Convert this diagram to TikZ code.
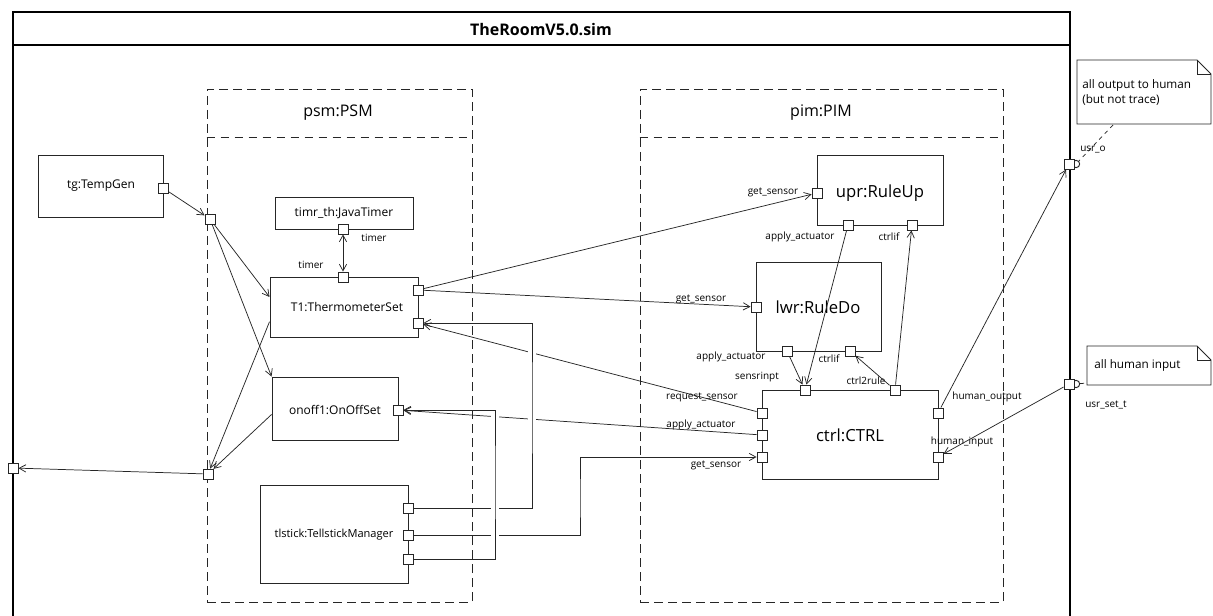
\documentclass[tikz,border=0pt]{standalone}
\usepackage{fontspec}
\setmainfont{Open Sans}
\usetikzlibrary{arrows.meta,fit,calc}
\begin{document}
\begin{tikzpicture}[x=0.75pt,y=-0.75pt,
  ln/.style={line width=0.55pt, draw=black!85},
  arr/.style={ln, -{Straight Barb[length=5pt,width=5.5pt]}},
  darr/.style={ln, {Straight Barb[length=5pt,width=5.5pt]}-{Straight Barb[length=5pt,width=5.5pt]}},
  box/.style={draw=black!85, line width=0.7pt, inner sep=0pt, fill=white},
  port/.style={draw=black!85, line width=0.7pt, fill=white, minimum size=7.5pt, inner sep=0pt},
  cont/.style={draw=black!85, line width=0.7pt, dash pattern=on 6.5pt off 4pt},
  lab/.style={font=\fontsize{9}{10}\selectfont, inner sep=0pt},
  nlab/.style={font=\fontsize{8.8}{10}\selectfont, inner sep=0pt},
  clab/.style={font=\fontsize{12}{14}\selectfont, inner sep=0pt},
  blab/.style={font=\fontsize{12.5}{14}\selectfont, inner sep=0pt},
  plab/.style={font=\fontsize{7.5}{8.5}\selectfont, inner sep=0pt},
  gap/.style={draw=white, line width=6pt},
]
\useasboundingbox (0,0) rectangle (1213,616);
\fill[white] (0,0) rectangle (1213,616);

% outer frame
\draw[line width=0.8pt] (13,616) -- (13,12) -- (1070,12) -- (1070,616);
\draw[line width=0.8pt] (13,45) -- (1070,45);
\node[font=\bfseries\fontsize{12}{14}\selectfont, inner sep=0pt] (title) at (541,30) {TheRoomV5.0.sim};

% containers
\coordinate (psmA) at (207,89); \coordinate (psmB) at (472,602);
\node[cont, fit=(psmA)(psmB), inner sep=0pt] (psm) {};
\coordinate (sep) at (0,137);
\draw[cont] (psm.west |- sep) -- (psm.east |- sep);
\node[clab] (psmt) at (338,113) {psm:PSM};
\coordinate (pimA) at (640,89); \coordinate (pimB) at (1003,602);
\node[cont, fit=(pimA)(pimB), inner sep=0pt] (pim) {};
\draw[cont] (pim.west |- sep) -- (pim.east |- sep);
\node[clab] (pimt) at (821,113) {pim:PIM};

% boxes
\coordinate (tgA) at (38,155); \coordinate (tgB) at (163,217);
\node[box, fit=(tgA)(tgB)] (tg) {};
\node[lab] (tgt) at (101,186) {tg:TempGen};
\coordinate (jtA) at (275,197); \coordinate (jtB) at (413,229);
\node[box, fit=(jtA)(jtB)] (jt) {};
\node[lab] (jtt) at (344,213) {timr\_th:JavaTimer};
\coordinate (t1A) at (270,277); \coordinate (t1B) at (418,337);
\node[box, fit=(t1A)(t1B)] (T1) {};
\node[lab] (t1t) at (347,307) {T1:ThermometerSet};
\coordinate (onA) at (272,377); \coordinate (onB) at (398,440);
\node[box, fit=(onA)(onB)] (onoff) {};
\node[lab] (ont) at (335,410) {onoff1:OnOffSet};
\coordinate (tlA) at (260,485); \coordinate (tlB) at (408,583);
\node[box, fit=(tlA)(tlB)] (tl) {};
\node[lab, font=\fontsize{8.3}{10}\selectfont] (tlt) at (334,535) {tlstick:TellstickManager};

\coordinate (upA) at (817,155); \coordinate (upB) at (943,225);
\node[box, fit=(upA)(upB)] (upr) {};
\node[blab] (uprt) at (880,193) {upr:RuleUp};
\coordinate (lwA) at (756,262); \coordinate (lwB) at (881,351);
\node[box, fit=(lwA)(lwB)] (lwr) {};
\node[blab] (lwrt) at (818,307) {lwr:RuleDo};
\coordinate (ctA) at (762,390); \coordinate (ctB) at (938,479);
\node[box, fit=(ctA)(ctB)] (ctrl) {};
\node[blab] (ctrlt) at (850,435) {ctrl:CTRL};

% notes
\draw[ln, line width=0.7pt, fill=white] (1077,60) -- (1197,60) -- (1211,74) -- (1211,124) -- (1077,124) -- cycle;
\draw[ln, line width=0.7pt] (1197,60) -- (1197,74) -- (1211,74);
\node[nlab, anchor=west] (n1a) at (1082,85) {all output to human};
\node[nlab, anchor=west] (n1b) at (1082,100) {(but not trace)};
\draw[ln, line width=0.7pt, fill=white] (1087,346) -- (1197,346) -- (1211,360) -- (1211,385) -- (1087,385) -- cycle;
\draw[ln, line width=0.7pt] (1197,346) -- (1197,360) -- (1211,360);
\node[nlab, anchor=west] (n2a) at (1094,365) {all human input};
\coordinate (n1c) at (1113,125);
\coordinate (n2c) at (1087,383);

% frame ports
\node[draw=black!85, line width=0.7pt, fill=white, circle, minimum size=5.5pt, inner sep=0pt] (usroc) at (1076,164) {};
\node[port] (usro) at (1069,164) {};
\node[draw=black!85, line width=0.7pt, fill=white, circle, minimum size=5.5pt, inner sep=0pt] (usrstc) at (1076,384) {};
\node[port] (usrst) at (1069,384) {};
\node[port] (fl) at (13,468) {};
\node[plab] (usrol) at (1093,150) {usr\_o};
\node[plab] (usrstl) at (1106,405) {usr\_set\_t};
\draw[ln, dashed] (n1c) -- (usroc);
\draw[ln, dashed] (usrstc) -- (n2c);

% ports
\node[port] (tgp) at (163,188) {};
\node[port] (psmin) at (210,219) {};
\node[port] (psmout) at (208,474) {};
\node[port] (jtp) at (343,229) {};
\node[port] (t1top) at (343,277) {};
\node[port] (t1p1) at (418,290) {};
\node[port] (t1p2) at (418,323) {};
\node[port] (onp) at (398,410) {};
\node[port] (tl1) at (408,508) {};
\node[port] (tl2) at (408,535) {};
\node[port] (tl3) at (408,559) {};
\node[port] (uprgs) at (817,193) {};
\node[port] (upraa) at (848,225) {};
\node[port] (uprci) at (912,225) {};
\node[port] (lwrgs) at (756,307) {};
\node[port] (lwraa) at (787,351) {};
\node[port] (lwrci) at (850,351) {};
\node[port] (ctrlsi) at (805,390) {};
\node[port] (ctrlc2r) at (895,390) {};
\node[port] (ctrlrq) at (762,413) {};
\node[port] (ctrlaa) at (762,435) {};
\node[port] (ctrlgs) at (762,457) {};
\node[port] (ctrlho) at (938,413) {};
\node[port] (ctrlhi) at (938,457) {};

% port labels
\node[plab] (l1) at (374,238) {timer};
\node[plab] (l2) at (311,265) {timer};
\node[plab] (l3) at (773,192) {get\_sensor};
\node[plab] (l4) at (800,237) {apply\_actuator};
\node[plab] (l5) at (889,237) {ctrlif};
\node[plab] (l6) at (701,299) {get\_sensor};
\node[plab] (l7) at (731,357) {apply\_actuator};
\node[plab] (l8) at (829,359) {ctrlif};
\node[plab] (l9) at (757,377) {sensrinpt};
\node[plab] (l10) at (866,381) {ctrl2rule};
\node[plab] (l11) at (702,397) {request\_sensor};
\node[plab] (l12) at (701,425) {apply\_actuator};
\node[plab] (l13) at (716,465) {get\_sensor};
\node[plab] (l14) at (987,397) {human\_output};
\node[plab] (l15) at (962,442) {human\_input};

% bend coordinates
\coordinate (b1) at (532,400);
\coordinate (b2) at (580,500);
\coordinate (b3) at (495,480);

% connectors
\draw[arr] (tgp) -- (psmin);
\draw[arr] (psmin) -- ([yshift=7.5pt]T1.west);
\draw[arr] (psmin) -- (onoff.north west);
\draw[arr] ([yshift=-11pt]T1.west) -- (psmout);
\draw[arr] ([yshift=-4.5pt]onoff.west) -- (psmout);
\draw[arr] (psmout) -- (fl);
\draw[darr] (jtp) -- (t1top);
\draw[arr] (t1p1) -- (uprgs);
\draw[arr] (t1p1) -- (lwrgs);
\draw[arr] (ctrlrq) -- (t1p2);
\draw[arr] (ctrlaa) -- (onp);
\draw[arr] (tl2) -| (b2) |- (ctrlgs);
\draw[arr] (upraa) -- (ctrlsi);
\draw[arr] (lwraa) -- (ctrlsi);
\draw[arr] (ctrlc2r) -- (uprci);
\draw[arr] (ctrlc2r) -- (lwrci);
\draw[arr] (ctrlho) -- (usro);
\draw[arr] (usrst) -- (ctrlhi);
% line hops
\draw[gap] (532,330) -- (532,502);
\draw[arr] (tl1) -| (b1) |- (t1p2);
\draw[gap] (495,414) -- (495,553);
\draw[arr] (tl3) -| (b3) |- (onp);
\end{tikzpicture}
\end{document}
